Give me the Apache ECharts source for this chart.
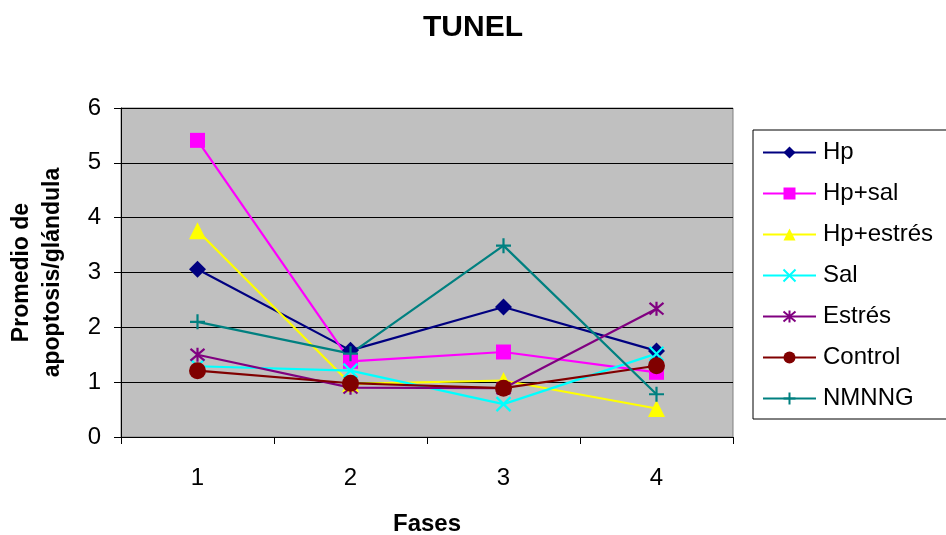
<!DOCTYPE html>
<html>
<head>
<meta charset="utf-8">
<script src="https://cdn.jsdelivr.net/npm/echarts@6/dist/echarts.min.js"></script>
<style>
  html, body { margin: 0; padding: 0; background: #fff; }
  #chart { width: 946px; height: 535px; }
</style>
</head>
<body>
<div id="chart"></div>
<script>
// Phases on the x axis
const fases = ['1', '2', '3', '4'];

// Mean apoptosis per gland, one array per group
const hp        = [3.06, 1.58, 2.37, 1.57];
const hpSal     = [5.41, 1.38, 1.55, 1.18];
const hpEstres  = [3.76, 0.97, 1.03, 0.52];
const sal       = [1.29, 1.21, 0.60, 1.52];
const estres    = [1.50, 0.90, 0.89, 2.34];
const control   = [1.21, 0.98, 0.89, 1.30];
const nmnng     = [2.10, 1.52, 3.49, 0.78];

const groupNames = ['Hp', 'Hp+sal', 'Hp+estrés', 'Sal', 'Estrés', 'Control', 'NMNNG'];

const FONT = 'Liberation Sans, Arial, sans-serif';

// Stroke-only marker shapes
const xMark    = 'path://M0,0L10,10M10,0L0,10';
const starMark = 'path://M0,0L10,10M10,0L0,10M5,-1L5,11';
const plusMark = 'path://M5,0L5,10M0,5L10,5';

function line(name, data, color, symbol, size, stroked) {
  return {
    name: name,
    type: 'line',
    data: data,
    symbol: symbol,
    symbolSize: size,
    showAllSymbol: true,
    lineStyle: { color: color, width: 2.2 },
    itemStyle: stroked
      ? { color: 'rgba(0,0,0,0)', borderColor: color, borderWidth: 2.2 }
      : { color: color, borderColor: color, borderWidth: 0 },
    emphasis: { disabled: true },
    animation: false
  };
}

const chart = echarts.init(document.getElementById('chart'), null, { renderer: 'canvas' });

chart.setOption({
  backgroundColor: '#ffffff',
  animation: false,
  textStyle: { fontFamily: FONT },
  title: {
    text: 'TUNEL',
    left: 'center',
    top: 8,
    textStyle: { fontSize: 30, fontWeight: 'bold', color: '#000', fontFamily: FONT }
  },
  legend: {
    data: groupNames,
    orient: 'vertical',
    left: 753,
    top: 130,
    padding: [10, 30, 8, 9],
    itemWidth: 53,
    itemHeight: 15,
    itemGap: 16,
    backgroundColor: '#ffffff',
    borderColor: '#000',
    borderWidth: 1,
    borderRadius: 0,
    textStyle: { fontSize: 24, lineHeight: 25, color: '#000', fontFamily: FONT, padding: [0, 0, 0, 2] }
  },
  grid: {
    left: 121, right: 213, top: 108, bottom: 98,
    outerBoundsMode: 'none',
    containLabel: false,
    show: true,
    backgroundColor: '#C0C0C0',
    borderColor: '#808080',
    borderWidth: 1
  },
  xAxis: {
    type: 'category',
    data: fases,
    boundaryGap: true,
    name: 'Fases',
    nameLocation: 'middle',
    nameGap: 75,
    nameTextStyle: { fontSize: 24, fontWeight: 'bold', color: '#000', fontFamily: FONT },
    axisLine: { lineStyle: { color: '#000', width: 1 } },
    axisTick: { show: true, inside: false, length: 7, lineStyle: { color: '#000' } },
    axisLabel: { fontSize: 24, color: '#000', margin: 29, fontFamily: FONT },
    splitLine: { show: false }
  },
  yAxis: {
    type: 'value',
    min: 0, max: 6, interval: 1,
    name: 'Promedio de\napoptosis/glándula',
    nameLocation: 'middle',
    nameGap: 53,
    nameTextStyle: { fontSize: 23, fontWeight: 'bold', color: '#000', lineHeight: 31, fontFamily: FONT },
    axisLine: { show: true, lineStyle: { color: '#000', width: 1 } },
    axisTick: { show: true, inside: false, length: 7, lineStyle: { color: '#000' } },
    axisLabel: { fontSize: 24, color: '#000', margin: 20, fontFamily: FONT },
    splitLine: { show: true, lineStyle: { color: '#000', width: 1 } }
  },
  series: [
    line('Hp',        hp,       '#000080', 'diamond',  17, false),
    line('Hp+sal',    hpSal,    '#FF00FF', 'rect',     15, false),
    line('Hp+estrés', hpEstres, '#FFFF00', 'triangle', 17, false),
    line('Sal',       sal,      '#00FFFF', xMark,      14, true),
    line('Estrés',    estres,   '#800080', starMark,   14, true),
    line('Control',   control,  '#800000', 'circle',   17, false),
    line('NMNNG',     nmnng,    '#008080', plusMark,   15, true)
  ]
});
</script>
</body>
</html>
